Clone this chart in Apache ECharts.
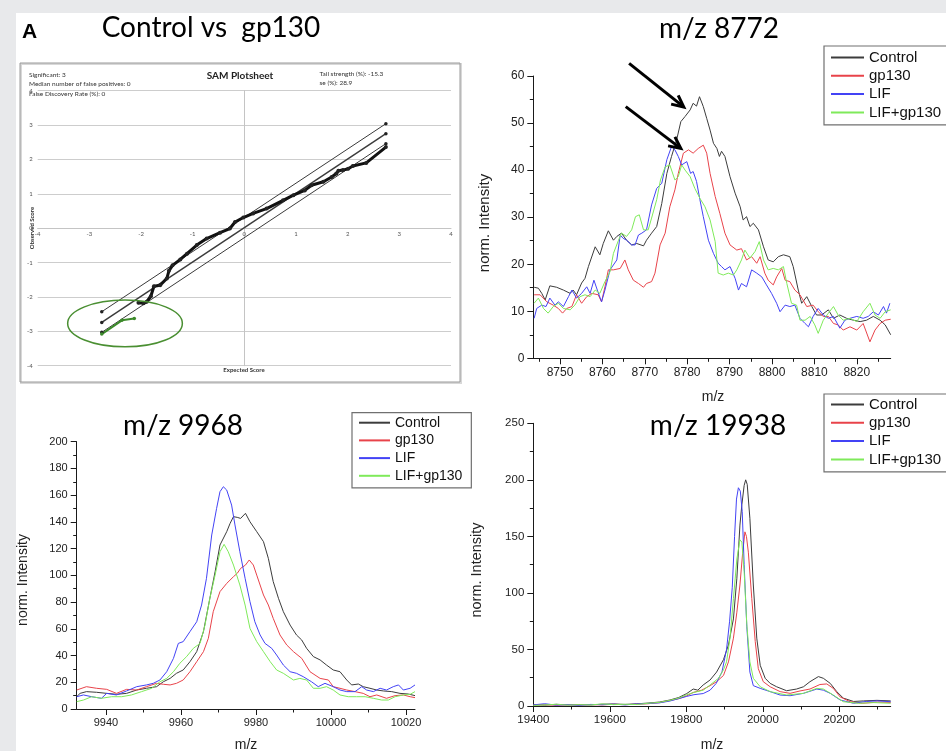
<!DOCTYPE html>
<html><head><meta charset="utf-8">
<script src="https://cdn.jsdelivr.net/npm/echarts@6/dist/echarts.min.js"></script>
<style>
html,body{margin:0;padding:0;background:#e8e9eb;overflow:hidden;}
#paper{position:absolute;left:16px;top:13px;width:930px;height:738px;background:#fff;}
#chart{position:absolute;left:0;top:0;width:946px;height:751px;}
</style></head><body>
<div id="paper"></div><div id="chart"></div>
<script>
// ---------- DATA ----------
const seriesNames = ['Control', 'gp130', 'LIF', 'LIF+gp130'];

// SAM plot (expected score, observed score)
const samUpper = [[-2.76, -2.43], [2.74, 3.04]];
const samMiddle = [[-2.76, -2.74], [2.74, 2.75]];
const samLower = [[-2.76, -3.03], [2.74, 2.46]];
const samObserved = [[-2.05,-2.17],[-1.95,-2.18],[-1.89,-2.14],[-1.81,-1.98],[-1.75,-1.69],[-1.63,-1.66],[-1.50,-1.46],[-1.46,-1.24],[-1.39,-1.08],[-1.24,-0.91],[-1.11,-0.74],[-0.92,-0.49],[-0.73,-0.30],[-0.47,-0.13],[-0.28,-0.01],[-0.18,0.18],[-0.02,0.31],[0.17,0.43],[0.43,0.57],[0.75,0.81],[0.95,0.96],[1.17,1.10],[1.30,1.25],[1.53,1.35],[1.69,1.49],[1.78,1.59],[1.82,1.67],[1.91,1.69],[2.01,1.73],[2.10,1.81],[2.36,1.90],[2.74,2.36]];
const samSignificant = [[-2.76, -3.08], [-2.37, -2.68], [-2.13, -2.63]];

// m/z 8772
const mz8772Major = [8750, 8760, 8770, 8780, 8790, 8800, 8810, 8820];
const mz8772Minor = [8745, 8755, 8765, 8775, 8785, 8795, 8805, 8815, 8825];
const mz8772Control = [[8743.9,15.1],[8744.9,14.9],[8745.7,13.8],[8746.5,12.4],[8747.6,15.4],[8749.2,15.1],[8750.8,14.5],[8752.4,13.8],[8753.1,14.5],[8753.9,13.5],[8755.1,16],[8755.9,17],[8756.7,19.5],[8758.3,23.7],[8759.4,22],[8760.2,24.4],[8761.4,27.1],[8762.6,25.1],[8763.4,25.9],[8764.5,26.6],[8765.7,25.1],[8766.9,24.1],[8768.1,24.4],[8769.7,23.9],[8770.4,25.1],[8771.6,26.6],[8772.8,28],[8774.0,32.9],[8775.2,39.3],[8776.3,42.9],[8777.5,46.4],[8778.5,50.3],[8779.5,51.4],[8780.7,52.8],[8781.4,54.2],[8782.2,53.6],[8782.9,55.6],[8783.8,53.5],[8784.6,51],[8785.4,48.5],[8786.2,45.7],[8787.0,44.6],[8787.6,42.9],[8788.1,44],[8788.9,42.9],[8790.1,38.6],[8791.3,35.1],[8792.5,32.2],[8793.2,29.4],[8794.0,30.1],[8794.8,28],[8795.6,28.7],[8796.8,27.3],[8798.0,23.7],[8799.1,20.9],[8800.3,20.5],[8801.5,21.6],[8802.7,22],[8804.2,21.6],[8805.0,19.5],[8806.2,14.5],[8807.0,11.7],[8808.2,13.1],[8809.4,11],[8810.5,9.2],[8811.7,9.2],[8813.3,10.3],[8814.5,8.5],[8816.0,9.2],[8817.6,8.5],[8819.2,8.1],[8820.8,7.8],[8822.3,8.1],[8823.9,8.9],[8825.5,8.1],[8826.7,7.1],[8828.0,5]];
const mz8772Gp130 = [[8743.9,13.5],[8745.3,13.5],[8746.9,12],[8748.4,11.3],[8749.6,10.6],[8750.6,9.6],[8751.6,10.6],[8752.8,11],[8753.9,13.5],[8755.1,11.7],[8756.3,13.1],[8757.5,13.8],[8759.0,13.5],[8759.8,12],[8760.6,15.2],[8761.4,18.8],[8762.6,18.8],[8764.2,19.1],[8765.3,20.9],[8766.1,18.8],[8767.3,16.6],[8768.5,15.9],[8769.7,15.1],[8770.4,15.9],[8771.6,16.3],[8772.4,18.1],[8773.6,24.1],[8774.8,26.6],[8775.9,32.2],[8777.1,35.8],[8777.9,39.3],[8779.1,43.6],[8780.3,44.3],[8781.4,43.6],[8782.6,44.6],[8783.8,45.3],[8784.6,43.6],[8785.4,39.3],[8786.6,34.4],[8787.7,30.8],[8788.9,26.6],[8790.1,24.1],[8791.7,23],[8792.8,23.3],[8794.0,20.9],[8795.2,21.6],[8796.4,20.2],[8797.2,21.6],[8798.3,18.1],[8799.1,16.6],[8800.3,15.6],[8801.1,17.3],[8802.3,19.1],[8803.1,16.6],[8804.2,16.3],[8805.4,14.5],[8806.6,13.5],[8808.2,11],[8809.7,11.3],[8810.9,9.9],[8812.1,8.9],[8813.3,8.9],[8814.5,7.4],[8815.6,7.1],[8816.8,6],[8818.4,6.7],[8820.0,6],[8821.5,7.4],[8823.1,3.5],[8824.3,6],[8825.5,7.4],[8826.7,8.1],[8828.0,8.3]];
const mz8772Lif = [[8743.9,8.5],[8744.5,10.6],[8745.7,11.3],[8746.7,11],[8747.6,12.8],[8748.8,11.3],[8749.6,12],[8750.8,11],[8752.0,13.1],[8752.8,14.5],[8753.9,12.8],[8755.1,13.8],[8756.3,15.2],[8757.1,13.8],[8758.0,16.6],[8758.8,14.5],[8759.8,12],[8760.6,14.5],[8761.8,18.8],[8763.4,20.9],[8764.2,26.2],[8764.9,25.5],[8765.7,25.1],[8766.9,24.1],[8767.7,24.1],[8768.5,26.2],[8769.3,26.6],[8770.4,27.3],[8771.6,32.6],[8772.8,36.1],[8774.0,37.2],[8775.2,42.2],[8776.3,45],[8777.1,44.3],[8777.9,42.9],[8778.7,41.1],[8779.9,41.8],[8780.8,39.3],[8781.4,39.7],[8782.2,37.6],[8783.0,33.7],[8783.8,30.1],[8785.0,25.1],[8786.2,22.3],[8787.3,20.2],[8788.1,19.5],[8788.9,18.8],[8790.1,19.5],[8791.3,17],[8792.1,14.5],[8792.8,15.9],[8794.0,15.2],[8795.2,18.8],[8796.4,18.1],[8797.6,17.3],[8798.7,15.6],[8799.9,13.8],[8801.1,11.7],[8801.9,9.9],[8803.1,11.3],[8804.2,11],[8805.4,11.3],[8806.6,8.5],[8807.8,7.4],[8808.6,6.7],[8809.7,8.9],[8810.9,10.6],[8812.1,9.2],[8813.3,8.5],[8814.5,8.9],[8816.0,6.4],[8817.2,8.1],[8818.4,8.5],[8820.0,8.9],[8821.5,8.5],[8822.7,8.9],[8823.9,9.9],[8825.1,9.2],[8826.3,11],[8827.0,9.6],[8827.8,11.7]];
const mz8772LifGp130 = [[8743.9,11.7],[8744.9,12.8],[8746.1,10.6],[8747.2,9.6],[8748.4,11],[8749.6,11.7],[8750.8,10.6],[8752.4,10.3],[8753.5,11.3],[8754.7,13.1],[8755.9,13.5],[8757.1,13.1],[8758.3,14.5],[8759.4,13.8],[8760.6,16.3],[8761.8,18.4],[8762.6,22.3],[8763.8,25.1],[8764.5,26.6],[8765.7,25.9],[8766.9,27.3],[8767.8,30.1],[8768.7,30.5],[8769.7,27.3],[8770.8,27.3],[8771.6,29.8],[8772.8,33.7],[8773.7,37.9],[8774.8,40.7],[8775.9,41.1],[8777.1,37.9],[8777.9,38.6],[8778.7,41.1],[8779.5,40],[8780.7,38.6],[8781.8,36.1],[8783.0,34],[8784.2,32.2],[8785.4,29.4],[8786.6,24.8],[8787.3,18.1],[8788.5,17.7],[8789.7,18.1],[8790.9,17.7],[8791.7,18.8],[8792.8,20.9],[8793.6,23],[8794.8,21.3],[8796.0,22.7],[8797.0,24.8],[8798.0,20.9],[8799.1,18.8],[8800.3,19.1],[8801.5,18.8],[8802.7,19.5],[8803.5,15.9],[8804.6,11.7],[8805.8,11.3],[8806.6,8.1],[8807.8,8.1],[8809.0,8.9],[8810.1,7.1],[8810.9,5.3],[8812.1,8.1],[8813.3,9.6],[8814.5,11],[8815.6,9.2],[8816.8,8.1],[8818.4,8.5],[8820.0,7.8],[8821.5,9.9],[8823.1,11.7],[8824.3,9.2],[8825.5,8.5],[8826.7,9.9],[8828.0,10.3]];

// m/z 9968
const mz9968Major = [9940, 9960, 9980, 10000, 10020];
const mz9968Minor = [9950, 9970, 9990, 10010];
const mz9968Control = [[9932.2,9.2],[9933.1,11.7],[9934.8,13],[9937.5,12.5],[9940.2,11.7],[9942.8,11],[9945.5,11.7],[9948.2,14.2],[9950.8,15.5],[9953.5,16.7],[9955.3,20.4],[9957.1,22.9],[9958.8,26.7],[9960.6,29.2],[9962.4,35.4],[9964.2,42.9],[9966.0,57.9],[9967.7,82.8],[9969.1,102.7],[9970.4,122.7],[9972.2,132.7],[9973.1,138.9],[9974.0,143.9],[9975.0,143.4],[9975.9,142.6],[9977.2,146.4],[9978.4,140.1],[9980.2,132.7],[9982.0,125.2],[9983.3,112.7],[9984.6,95.3],[9986.0,82.8],[9987.3,72.8],[9989.1,62.8],[9990.8,55.4],[9992.2,51.6],[9993.5,45.4],[9995.3,39.2],[9997.1,36.7],[9998.8,32.9],[10000.6,29.2],[10002.4,27.9],[10004.2,21.7],[10005.5,18],[10007.3,18.7],[10008.6,16.7],[10010.4,15.5],[10012.2,14.2],[10014.0,13.5],[10016.2,13],[10018.4,11.7],[10020.6,11.2],[10022.4,10]];
const mz9968Gp130 = [[9932.2,14.2],[9934.8,16.7],[9937.5,15.5],[9940.2,14.7],[9942.8,11.7],[9945.5,14.7],[9948.2,14.2],[9950.8,16.7],[9953.5,19.2],[9955.3,18.5],[9957.1,18],[9958.8,19.2],[9960.6,21.7],[9962.4,27.9],[9964.2,35.4],[9966.0,42.9],[9967.3,52.9],[9968.6,72.8],[9970.4,87.8],[9972.2,94],[9974.0,99],[9975.0,101.5],[9975.9,105.2],[9977.2,107.7],[9978.2,111.5],[9979.3,107.7],[9980.2,100.2],[9982.0,85.3],[9983.3,77.8],[9984.6,67.8],[9986.4,55.4],[9988.2,47.9],[9990.0,42.9],[9992.2,37.9],[9994.4,27.9],[9997.1,22.9],[9999.3,21.7],[10000.6,16.7],[10002.4,15.5],[10004.2,14.2],[10006.4,13],[10008.6,11.7],[10010.4,9.2],[10012.2,10.5],[10014.8,8],[10017.1,10],[10019.3,10.5],[10021.1,9.2],[10022.4,8.5]];
const mz9968Lif = [[9932.2,9.2],[9934.0,10.5],[9936.2,9.2],[9938.8,8],[9940.2,11.7],[9942.8,10.5],[9945.5,13.5],[9948.2,16.7],[9950.8,18],[9952.6,19.2],[9954.4,21.7],[9956.2,27.9],[9958.0,37.9],[9959.3,49.1],[9960.6,50.4],[9962.4,57.9],[9964.2,65.3],[9965.5,77.8],[9966.8,97.8],[9968.2,130.2],[9969.5,150.1],[9970.4,162.6],[9971.3,166.3],[9972.2,163.8],[9973.5,152.6],[9974.4,137.7],[9975.7,117.7],[9977.1,97.8],[9978.4,80.3],[9979.7,65.3],[9981.1,55.4],[9982.4,49.1],[9984.2,45.4],[9985.5,40.4],[9987.3,32.9],[9989.1,27.9],[9990.8,26.7],[9992.6,24.2],[9994.8,20.4],[9996.6,16.7],[9998.4,19.2],[10000.6,16.7],[10002.4,14.2],[10004.2,13],[10006.4,13],[10008.2,16.7],[10009.5,14.2],[10011.3,13],[10013.1,15.5],[10014.8,14.2],[10016.6,16.7],[10018.0,18],[10019.3,14.2],[10021.1,15.5],[10022.4,18]];
const mz9968LifGp130 = [[9932.2,5.5],[9934.0,6.7],[9936.2,9.2],[9938.8,8],[9941.5,9.2],[9944.2,9.2],[9946.8,10.5],[9949.5,13],[9952.2,15.5],[9954.4,20.4],[9956.2,22.9],[9958.0,27.9],[9959.7,34.2],[9961.5,39.2],[9963.3,45.4],[9965.1,49.1],[9966.4,62.8],[9967.7,82.8],[9969.1,100.2],[9970.4,117.7],[9971.5,123.2],[9972.6,117.7],[9974.0,107.7],[9975.7,92.8],[9977.1,77.8],[9978.4,60.3],[9980.2,50.4],[9982.0,42.9],[9983.8,35.4],[9985.5,29.2],[9987.3,26.7],[9990.0,21.7],[9991.7,22.9],[9993.5,21.7],[9995.3,15.5],[9997.1,15.5],[9998.8,16.7],[10000.6,14.2],[10002.4,10.5],[10004.6,9.2],[10006.8,9.2],[10009.1,9.2],[10011.3,8],[10013.5,6.7],[10015.3,6.7],[10017.1,9.2],[10019.3,10.5],[10021.1,11],[10022.4,13]];

// m/z 19938
const mz19938Major = [19400, 19600, 19800, 20000, 20200];
const mz19938Minor = [19500, 19700, 19900, 20100, 20300];
const mz19938Control = [[19400,1.2],[19430,0.8],[19460,1.5],[19490,1.0],[19520,1.3],[19550,0.9],[19580,1.6],[19610,1.8],[19640,1.4],[19670,1.9],[19700,2.6],[19730,3.5],[19757,5.3],[19780,7.5],[19801,11],[19818,15],[19830,14],[19844,18.6],[19862,23],[19879,30],[19897,41],[19910,54],[19923,77],[19932,113],[19940,160],[19945,178],[19951,195],[19955,200],[19959,196],[19966,166],[19975,107],[19984,60],[19993,36],[20006,24.5],[20019,20],[20036,17],[20062,13.5],[20088,15],[20106,17],[20123,21.5],[20145,26],[20158,24.5],[20176,20],[20193,12.7],[20210,7],[20237,4],[20263,4.5],[20298,5],[20334,4.5]];
const mz19938Gp130 = [[19400,0.8],[19430,1.2],[19460,0.7],[19490,1.1],[19520,0.9],[19550,1.3],[19580,1],[19610,1.5],[19640,1.2],[19670,1.6],[19700,2],[19730,3],[19757,4.8],[19780,6.5],[19801,9],[19818,12],[19840,14],[19862,18],[19879,21.5],[19897,27],[19910,39],[19923,60],[19932,83],[19940,107],[19947,135],[19953,154],[19957,150],[19962,136],[19971,95],[19980,57],[19988,33],[20001,21.5],[20019,17],[20045,12.7],[20071,11.2],[20097,13.3],[20123,15],[20149,19],[20167,19.5],[20184,15.6],[20202,8],[20228,3.8],[20260,2.4],[20300,3.5],[20334,3.2]];
const mz19938Lif = [[19400,1],[19430,2],[19460,0.8],[19490,1.2],[19520,0.6],[19550,1.4],[19580,1.1],[19610,1.6],[19640,1],[19670,1.8],[19700,2.2],[19730,2.8],[19757,4.4],[19780,6.5],[19801,8.5],[19820,10],[19844,11],[19862,14],[19878,20],[19893,30],[19905,50],[19913,75],[19920,105],[19926,150],[19931,183],[19936,193],[19941,190],[19946,172],[19951,125],[19958,70],[19966,30],[19975,18],[19993,15.6],[20019,12.7],[20045,9.7],[20071,9.1],[20106,11.2],[20141,15],[20158,14],[20176,11.2],[20202,5.3],[20237,2.4],[20270,4],[20300,4.5],[20334,3.8]];
const mz19938LifGp130 = [[19400,0.5],[19430,1],[19460,1.5],[19490,0.8],[19520,1.2],[19550,1],[19580,1.8],[19610,1.2],[19640,1.5],[19670,1.3],[19700,2.4],[19730,3.2],[19757,5],[19780,7],[19801,10],[19820,12],[19844,14],[19862,18.6],[19884,24.5],[19897,32],[19905,39],[19914,60],[19923,95],[19932,130],[19940,147],[19945,145],[19951,119],[19958,72],[19966,39],[19975,24.5],[19993,17],[20019,12.7],[20062,9.7],[20106,11.2],[20141,15.6],[20158,15],[20184,9.7],[20210,3.8],[20250,2.4],[20290,3],[20334,2.4]];

// annotations (data coordinates)
const arrows8772 = [ {from: [8766.3, 62.7], to: [8779.2, 53.4]}, {from: [8765.5, 53.5], to: [8778.5, 44.6]} ];
const samEllipse = {center: [-2.31, -2.77], rx: 1.11, ry: 0.68};

// ---------- STYLE ----------
const colors = {'Control': '#3c3c3c', 'gp130': '#e8434a', 'LIF': '#4343f5', 'LIF+gp130': '#7fea5a'};
const FT = 'Lato, "Open Sans", sans-serif';
const FA = '"Liberation Sans", Arial, sans-serif';
const AX = '#1a1a1a';
const plain = function (v) { return String(v); };

const chart = echarts.init(document.getElementById('chart'), null, {renderer: 'canvas'});

function specAxisX(grid, min, max, values, showLabel, tickLen, fs, margin) {
  return {
    type: 'value', gridIndex: grid, min: min, max: max, position: 'bottom',
    axisLine: {show: showLabel, onZero: false, lineStyle: {color: AX, width: 1}},
    axisTick: {show: true, customValues: values, length: tickLen, lineStyle: {color: AX}},
    axisLabel: {show: showLabel, customValues: values, formatter: plain, fontFamily: FA, fontSize: fs, color: '#222', margin: margin},
    splitLine: {show: false}
  };
}
function specAxisY(grid, max, interval, fs, margin) {
  return {
    type: 'value', gridIndex: grid, min: 0, max: max, interval: interval,
    axisLine: {show: true, onZero: false, lineStyle: {color: AX, width: 1}},
    axisTick: {show: true, length: 6, lineStyle: {color: AX}},
    minorTick: {show: true, splitNumber: 2, length: 3.5, lineStyle: {color: AX}},
    axisLabel: {formatter: plain, fontFamily: FA, fontSize: fs, color: '#222', margin: margin},
    splitLine: {show: false}
  };
}
function spec(name, data, xi, yi) {
  return {name: name, type: 'line', data: data, xAxisIndex: xi, yAxisIndex: yi, symbol: 'none',
    lineStyle: {width: 1, color: colors[name]}, itemStyle: {color: colors[name]}, animation: false, clip: true};
}
function legendSpec(left, top, fs, iw, gap, pad) {
  return {orient: 'vertical', left: left, top: top, data: seriesNames, itemWidth: iw, itemHeight: fs,
    itemGap: gap, padding: pad, borderColor: '#707070', borderWidth: 1.2, backgroundColor: '#fff',
    textStyle: {fontFamily: FA, fontSize: fs, color: '#111'}, selectedMode: false,
    itemStyle: {color: 'rgba(0,0,0,0)', borderColor: 'rgba(0,0,0,0)', borderWidth: 0}};
}

const samLineStyle = (w) => ({type: 'line', xAxisIndex: 0, yAxisIndex: 0, symbol: 'circle', symbolSize: 3.5,
  lineStyle: {width: w, color: '#3a3a3a'}, itemStyle: {color: '#222'}, animation: false});

const option = {
  animation: false,
  grid: [
    {left: 37.7, top: 90.7, width: 413.3, height: 275},
    {left: 533.3, top: 76, width: 357.4, height: 282.3},
    {left: 76.7, top: 441.7, width: 338.3, height: 267.3},
    {left: 533.3, top: 423.3, width: 357.4, height: 282.7}
  ],
  xAxis: [
    {type: 'value', gridIndex: 0, min: -4, max: 4, interval: 1, position: 'bottom', offset: -137.5,
      axisLine: {onZero: false, lineStyle: {color: '#c4c4c4'}}, axisTick: {show: false},
      axisLabel: {fontFamily: FT, fontSize: 6, color: '#555', margin: 3}, splitLine: {show: false}},
    specAxisX(1, 8743.7, 8828, mz8772Major, true, 6, 12, 8),
    specAxisX(1, 8743.7, 8828, mz8772Minor, false, 3.5, 12, 8),
    specAxisX(2, 9932.2, 10022.4, mz9968Major, true, 6, 11, 8),
    specAxisX(2, 9932.2, 10022.4, mz9968Minor, false, 3.5, 11, 8),
    specAxisX(3, 19400, 20334, mz19938Major, true, 6, 11.5, 8),
    specAxisX(3, 19400, 20334, mz19938Minor, false, 3.5, 11.5, 8)
  ],
  yAxis: [
    {type: 'value', gridIndex: 0, min: -4, max: 4, interval: 1,
      axisLine: {onZero: true, lineStyle: {color: '#c4c4c4'}}, axisTick: {show: false},
      axisLabel: {fontFamily: FT, fontSize: 6, color: '#555', margin: 5},
      splitLine: {show: true, lineStyle: {color: '#cdcdcd', width: 1}}},
    specAxisY(1, 60, 10, 12, 9),
    specAxisY(2, 200, 20, 11, 9),
    specAxisY(3, 250, 50, 11.5, 9)
  ],
  legend: [
    legendSpec(824, 46, 15, 33, 3.3, [4, 6, 5, 6]),
    legendSpec(352, 412.7, 14, 31, 3.7, [3, 9, 5, 6]),
    legendSpec(824, 394, 15, 33, 3.3, [3, 6, 5, 6])
  ],
  series: [
    Object.assign(samLineStyle(1), {name: 'SAM upper', data: samUpper}),
    Object.assign(samLineStyle(1.4), {name: 'SAM middle', data: samMiddle}),
    Object.assign(samLineStyle(1), {name: 'SAM lower', data: samLower}),
    Object.assign(samLineStyle(2.6), {name: 'SAM observed', data: samObserved, symbolSize: 4, lineStyle: {width: 3, color: '#111'}}),
    Object.assign(samLineStyle(2), {name: 'SAM significant', data: samSignificant, lineStyle: {width: 2, color: '#3d8a2b'}, itemStyle: {color: '#3d8a2b'}}),
    spec('Control', mz8772Control, 1, 1), spec('gp130', mz8772Gp130, 1, 1), spec('LIF', mz8772Lif, 1, 1), spec('LIF+gp130', mz8772LifGp130, 1, 1),
    spec('Control', mz9968Control, 3, 2), spec('gp130', mz9968Gp130, 3, 2), spec('LIF', mz9968Lif, 3, 2), spec('LIF+gp130', mz9968LifGp130, 3, 2),
    spec('Control', mz19938Control, 5, 3), spec('gp130', mz19938Gp130, 5, 3), spec('LIF', mz19938Lif, 5, 3), spec('LIF+gp130', mz19938LifGp130, 5, 3)
  ]
};
chart.setOption(option);

// ---------- ANNOTATIONS / TEXT ----------
function txt(t, x, y, font, opts) {
  return Object.assign({type: 'text', x: x, y: y, z: 50, silent: true,
    style: Object.assign({text: t, font: font, fill: '#111', align: 'left', verticalAlign: 'middle'}, (opts && opts.style) || {})},
    (opts && opts.el) || {});
}
const g = [];
// SAM frame
g.push({type: 'rect', z: 1, silent: true, shape: {x: 21, y: 64, width: 440, height: 319}, style: {fill: 'none', stroke: '#d8d8d8', lineWidth: 2}});
g.push({type: 'rect', z: 1, silent: true, shape: {x: 20, y: 63, width: 440, height: 319}, style: {fill: 'none', stroke: '#9a9a9a', lineWidth: 1}});
// headings
g.push(txt('A', 22, 32, 'bold 21px ' + FA, {style: {fill: '#000'}}));
g.push(txt('Control vs  gp130', 211, 28, '28px ' + FT, {style: {align: 'center', fill: '#000'}}));
g.push(txt('m/z 8772', 719, 29, '28px ' + FT, {style: {align: 'center', fill: '#000'}}));
g.push(txt('m/z 9968', 183, 425.5, '28px ' + FT, {style: {align: 'center', fill: '#000'}}));
g.push(txt('m/z 19938', 718, 425.5, '28px ' + FT, {style: {align: 'center', fill: '#000'}}));
// SAM texts
g.push(txt('Significant: 3', 29, 74.7, '6.5px ' + FT, {style: {fill: '#333'}}));
g.push(txt('Median number of false positives: 0', 29, 84, '6.5px ' + FT, {style: {fill: '#333'}}));
g.push(txt('False Discovery Rate (%): 0', 29, 94, '6.5px ' + FT, {style: {fill: '#333'}}));
g.push(txt('Tail strength (%): -15.3', 319.5, 74.3, '6.5px ' + FT, {style: {fill: '#333'}}));
g.push(txt('se (%): 28.9', 319.5, 83.3, '6.5px ' + FT, {style: {fill: '#333'}}));
g.push(txt('SAM Plotsheet', 240, 76, 'bold 10px ' + FT, {style: {align: 'center', fill: '#222'}}));
g.push(txt('Expected Score', 244, 370.5, 'bold 6px ' + FT, {style: {align: 'center', fill: '#333'}}));
g.push(txt('Observed Score', 32.5, 228, 'bold 6px ' + FT, {style: {align: 'center', fill: '#333'}, el: {rotation: Math.PI / 2}}));
// axis titles
g.push(txt('norm. Intensity', 485, 223, '15px ' + FA, {style: {align: 'center', fill: '#222'}, el: {rotation: Math.PI / 2}}));
g.push(txt('norm. Intensity', 23, 580, '14px ' + FA, {style: {align: 'center', fill: '#222'}, el: {rotation: Math.PI / 2}}));
g.push(txt('norm. Intensity', 477, 570, '14.5px ' + FA, {style: {align: 'center', fill: '#222'}, el: {rotation: Math.PI / 2}}));
g.push(txt('m/z', 713, 397, '14px ' + FA, {style: {align: 'center', fill: '#222'}}));
g.push(txt('m/z', 246, 745, '14px ' + FA, {style: {align: 'center', fill: '#222'}}));
g.push(txt('m/z', 712, 745, '14px ' + FA, {style: {align: 'center', fill: '#222'}}));

// arrows
arrows8772.forEach(function (a) {
  const S = chart.convertToPixel({gridIndex: 1}, a.from);
  const T = chart.convertToPixel({gridIndex: 1}, a.to);
  const dx = T[0] - S[0], dy = T[1] - S[1], L = Math.hypot(dx, dy), ux = dx / L, uy = dy / L;
  const h = 13, ang = 0.45;
  const p1 = [T[0] - h * (ux * Math.cos(ang) - uy * Math.sin(ang)), T[1] - h * (uy * Math.cos(ang) + ux * Math.sin(ang))];
  const p2 = [T[0] - h * (ux * Math.cos(-ang) - uy * Math.sin(-ang)), T[1] - h * (uy * Math.cos(-ang) + ux * Math.sin(-ang))];
  g.push({type: 'line', z: 60, silent: true, shape: {x1: S[0], y1: S[1], x2: T[0] - ux, y2: T[1] - uy}, style: {stroke: '#000', lineWidth: 3}});
  g.push({type: 'polyline', z: 60, silent: true, shape: {points: [p1, T, p2]}, style: {stroke: '#000', lineWidth: 3, fill: null, lineJoin: 'miter'}});
});
// ellipse
(function () {
  const C = chart.convertToPixel({gridIndex: 0}, samEllipse.center);
  const R = chart.convertToPixel({gridIndex: 0}, [samEllipse.center[0] + samEllipse.rx, samEllipse.center[1] + samEllipse.ry]);
  g.push({type: 'ellipse', z: 60, silent: true, shape: {cx: C[0], cy: C[1], rx: Math.abs(R[0] - C[0]), ry: Math.abs(C[1] - R[1])},
    style: {fill: 'none', stroke: '#4a8f32', lineWidth: 1.5}});
})();
chart.setOption({graphic: g});
</script></body></html>
